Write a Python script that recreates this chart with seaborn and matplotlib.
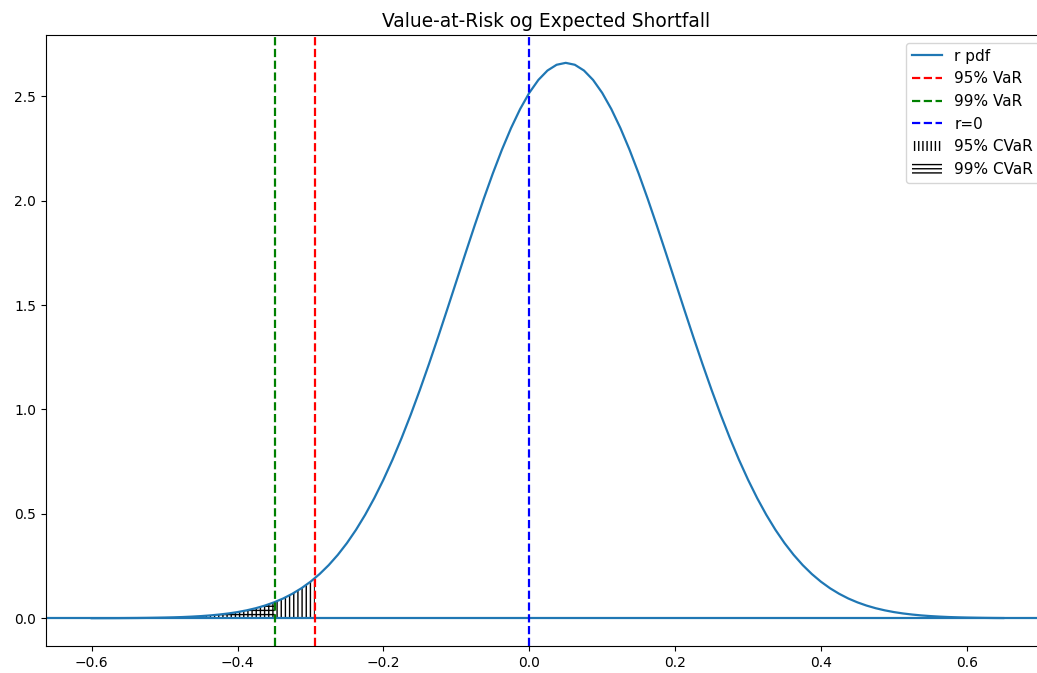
import numpy as np
import matplotlib
matplotlib.use("Agg")
import matplotlib.pyplot as plt
import seaborn as sns

# return grid and density
r = [-0.6000, -0.5875, -0.5750, -0.5625, -0.5500, -0.5375, -0.5250, -0.5125,
     -0.5000, -0.4875, -0.4750, -0.4625, -0.4500, -0.4375, -0.4250, -0.4125,
     -0.4000, -0.3875, -0.3750, -0.3625, -0.3500, -0.3375, -0.3250, -0.3125,
     -0.3000, -0.2875, -0.2750, -0.2625, -0.2500, -0.2375, -0.2250, -0.2125,
     -0.2000, -0.1875, -0.1750, -0.1625, -0.1500, -0.1375, -0.1250, -0.1125,
     -0.1000, -0.0875, -0.0750, -0.0625, -0.0500, -0.0375, -0.0250, -0.0125,
     0.0000, 0.0125, 0.0250, 0.0375, 0.0500, 0.0625, 0.0750, 0.0875,
     0.1000, 0.1125, 0.1250, 0.1375, 0.1500, 0.1625, 0.1750, 0.1875,
     0.2000, 0.2125, 0.2250, 0.2375, 0.2500, 0.2625, 0.2750, 0.2875,
     0.3000, 0.3125, 0.3250, 0.3375, 0.3500, 0.3625, 0.3750, 0.3875,
     0.4000, 0.4125, 0.4250, 0.4375, 0.4500, 0.4625, 0.4750, 0.4875,
     0.5000, 0.5125, 0.5250, 0.5375, 0.5500, 0.5625, 0.5750, 0.5875,
     0.6000, 0.6125, 0.6250, 0.6375, 0.6500]
pdf = [0.0002, 0.0003, 0.0004, 0.0006, 0.0009, 0.0012, 0.0017, 0.0024,
       0.0032, 0.0043, 0.0058, 0.0078, 0.0103, 0.0135, 0.0177, 0.0229,
       0.0295, 0.0378, 0.0480, 0.0606, 0.0760, 0.0945, 0.1169, 0.1434,
       0.1748, 0.2116, 0.2543, 0.3036, 0.3599, 0.4237, 0.4954, 0.5752,
       0.6632, 0.7593, 0.8634, 0.9750, 1.0934, 1.2177, 1.3466, 1.4790,
       1.6131, 1.7472, 1.8794, 2.0076, 2.1296, 2.2435, 2.3471, 2.4385,
       2.5159, 2.5778, 2.6229, 2.6504, 2.6596, 2.6504, 2.6229, 2.5778,
       2.5159, 2.4385, 2.3471, 2.2435, 2.1296, 2.0076, 1.8794, 1.7472,
       1.6131, 1.4790, 1.3466, 1.2177, 1.0934, 0.9750, 0.8634, 0.7593,
       0.6632, 0.5752, 0.4954, 0.4237, 0.3599, 0.3036, 0.2543, 0.2116,
       0.1748, 0.1434, 0.1169, 0.0945, 0.0760, 0.0606, 0.0480, 0.0378,
       0.0295, 0.0229, 0.0177, 0.0135, 0.0103, 0.0078, 0.0058, 0.0043,
       0.0032, 0.0024, 0.0017, 0.0012, 0.0009]

var95 = -0.294
var99 = -0.349
pdf_at_var95 = 0.1918
pdf_at_var99 = 0.0773

r_arr = np.array(r)
pdf_arr = np.array(pdf)

fig = plt.figure(figsize=(10.37, 6.73), dpi=100)
ax = fig.add_axes([0.0441, 0.0401, 0.9656, 0.9079])

sns.lineplot(x=r_arr, y=pdf_arr, ax=ax, label="r pdf", color="C0", linewidth=1.6)
ax.axhline(0, color="C0", linewidth=1.6)
ax.axvline(var95, color="red", linestyle="--", linewidth=1.6, label="95% VaR")
ax.axvline(var99, color="green", linestyle="--", linewidth=1.6, label="99% VaR")
ax.axvline(0, color="blue", linestyle="--", linewidth=1.6, label="r=0")

m95 = r_arr < var95
x95 = np.append(r_arr[m95], var95)
y95 = np.append(pdf_arr[m95], pdf_at_var95)
ax.fill_between(x95, 0, y95, facecolor="none", edgecolor="black",
                linewidth=0, hatch="||||", label="95% CVaR")

m99 = r_arr < var99
x99 = np.append(r_arr[m99], var99)
y99 = np.append(pdf_arr[m99], pdf_at_var99)
ax.fill_between(x99, 0, y99, facecolor="none", edgecolor="black",
                linewidth=0, hatch="----", label="99% CVaR")

ax.set_xlim(-0.663, 0.710)
ax.set_ylim(-0.133, 2.793)
ax.set_title("Value-at-Risk og Expected Shortfall", fontsize=13.4)
ax.legend(loc="upper right", fontsize=11)

fig.savefig("out.png", dpi=100)
